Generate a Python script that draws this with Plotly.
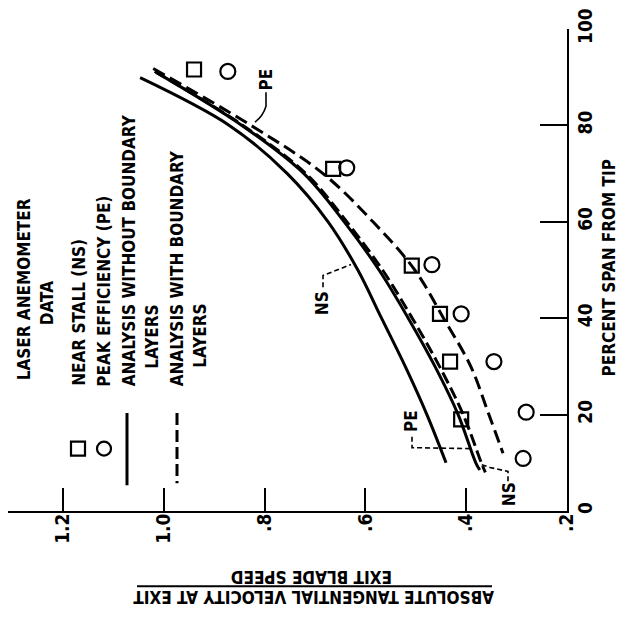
import plotly.graph_objects as go

# ---------------- data ----------------
# laser anemometer data
ns_span = [91.6, 71.0, 50.9, 40.9, 31.0, 19.0]
ns_vel = [0.940, 0.664, 0.508, 0.452, 0.432, 0.410]
pe_span = [91.2, 71.2, 51.1, 40.9, 31.0, 20.5, 10.9]
pe_vel = [0.873, 0.637, 0.468, 0.410, 0.345, 0.281, 0.287]

# analysis without boundary layers (solid)
ns_nobl_span = [89.9, 80, 70, 60, 50, 40, 30, 20, 10]
ns_nobl_vel = [1.047, 0.870, 0.755, 0.674, 0.615, 0.568, 0.521, 0.478, 0.440]
pe_nobl_span = [91.0, 80, 70, 60, 50, 40, 30, 20, 10, 8.5]
pe_nobl_vel = [1.015, 0.845, 0.722, 0.642, 0.573, 0.515, 0.462, 0.416, 0.381, 0.373]

# analysis with boundary layers (dashed)
ns_bl_span = [91.2, 80, 70, 60, 50, 40, 30, 20, 10, 8]
ns_bl_vel = [1.018, 0.843, 0.718, 0.637, 0.566, 0.507, 0.453, 0.406, 0.370, 0.362]
pe_bl_span = [91.8, 80, 70, 60, 50, 40, 30, 20, 12]
pe_bl_vel = [1.021, 0.827, 0.684, 0.585, 0.502, 0.445, 0.391, 0.355, 0.327]

vel_ticks = [1.2, 1.0, 0.8, 0.6, 0.4, 0.2]
vel_labels = ["1.2", "1.0", ".8", ".6", ".4", ".2"]
span_ticks = [0, 20, 40, 60, 80, 100]
span_labels = ["0", "20", "40", "60", "80", "100"]

# ---------------- layout geometry ----------------
W, H = 626, 624
L, R, T, B = 8, 567, 24, 511
FONT = "DejaVu Sans Condensed, Liberation Sans Narrow, Arial Narrow, sans-serif"


def P(px, py):
    return (px - L) / (R - L), (B - py) / (B - T)


fig = go.Figure()

line_w = 3
fig.add_trace(go.Scatter(x=ns_nobl_vel, y=ns_nobl_span, mode="lines",
                         line=dict(color="black", width=line_w, shape="spline")))
fig.add_trace(go.Scatter(x=pe_nobl_vel, y=pe_nobl_span, mode="lines",
                         line=dict(color="black", width=line_w, shape="spline")))
fig.add_trace(go.Scatter(x=ns_bl_vel, y=ns_bl_span, mode="lines",
                         line=dict(color="black", width=line_w, shape="spline",
                                   dash="12px,5px")))
fig.add_trace(go.Scatter(x=pe_bl_vel, y=pe_bl_span, mode="lines",
                         line=dict(color="black", width=line_w, shape="spline",
                                   dash="13px,6px")))
fig.add_trace(go.Scatter(x=ns_vel, y=ns_span, mode="markers",
                         marker=dict(symbol="square-open", size=14, color="black",
                                     line=dict(width=2.2, color="black"))))
fig.add_trace(go.Scatter(x=pe_vel, y=pe_span, mode="markers",
                         marker=dict(symbol="circle-open", size=15, color="black",
                                     line=dict(width=2.2, color="black"))))

annotations = []
shapes = []


def text(s, px, py, size=17, angle=-90, xa="center", ya="middle"):
    x, y = P(px, py)
    annotations.append(dict(text=s, x=x, y=y, xref="paper", yref="paper",
                            showarrow=False, textangle=angle, xanchor=xa, yanchor=ya,
                            font=dict(family=FONT, size=size, color="black",
                                      weight="bold")))


def seg(pts, dash="solid", width=1.6):
    path = ""
    for i, (px, py) in enumerate(pts):
        x, y = P(px, py)
        path += ("M" if i == 0 else "L") + f"{x},{y} "
    shapes.append(dict(type="path", path=path, xref="paper", yref="paper",
                       line=dict(color="black", width=width, dash=dash)))


# legend
text("LASER ANEMOMETER", 24, 287)
text("DATA", 47, 301)
text("NEAR STALL (NS)", 79, 387, ya="bottom")
text("PEAK EFFICIENCY (PE)", 104, 387, ya="bottom")
text("ANALYSIS WITHOUT BOUNDARY", 129, 387, ya="bottom")
text("LAYERS", 152, 335)
text("ANALYSIS WITH BOUNDARY", 177, 387, ya="bottom")
text("LAYERS", 200, 334)

# legend keys
x0, y0 = P(71, 441)
x1, y1 = P(85, 455)
shapes.append(dict(type="rect", x0=x0, y0=y0, x1=x1, y1=y1, xref="paper", yref="paper",
                   line=dict(color="black", width=2.2)))
x0, y0 = P(97, 441)
x1, y1 = P(111, 455)
shapes.append(dict(type="circle", x0=x0, y0=y0, x1=x1, y1=y1, xref="paper", yref="paper",
                   line=dict(color="black", width=2.2)))
seg([(127, 412), (127, 485)], width=3)
seg([(177, 412), (177, 483)], dash="12px,5px", width=3)

# curve labels and leaders
text("NS", 322, 301)
seg([(323, 285), (323, 273), (351, 262)], dash="5px,3px")
text("PE", 411, 420)
seg([(412, 436), (412, 447), (472, 448)], dash="5px,3px")
text("NS", 509, 494)
seg([(508, 481), (508, 471), (490, 467), (481, 464)], dash="5px,3px")
text("PE", 266, 75)
xa_, ya_ = P(266, 88)
xb_, yb_ = P(266, 102)
xc_, yc_ = P(263, 112)
xd_, yd_ = P(255, 118)
shapes.append(dict(type="path", xref="paper", yref="paper",
                   path=f"M{xa_},{ya_} L{xb_},{yb_} Q{xc_},{yc_} {xd_},{yd_}",
                   line=dict(color="black", width=1.6)))

# axis titles
text("PERCENT SPAN FROM TIP", 609, 266)
text("EXIT BLADE SPEED", 312, 577, angle=180)
text("ABSOLUTE TANGENTIAL VELOCITY AT EXIT", 314, 598, angle=180)
x0, y0 = P(137, 587)
x1, _ = P(492, 587)
shapes.append(dict(type="line", x0=x0, y0=y0, x1=x1, y1=y0, xref="paper", yref="paper",
                   line=dict(color="black", width=2)))

vel_left = 0.2 + (R - L) / 504.0

fig.update_layout(
    width=W, height=H,
    margin=dict(l=L, r=W - R, t=T, b=H - B),
    paper_bgcolor="white", plot_bgcolor="white",
    showlegend=False,
    annotations=annotations, shapes=shapes,
    xaxis=dict(range=[vel_left, 0.2], tickvals=vel_ticks, ticktext=vel_labels,
               ticks="inside", ticklen=23, tickwidth=2, tickcolor="black",
               showline=True, linecolor="black", linewidth=2, showgrid=False,
               zeroline=False, tickangle=-90, ticklabelstandoff=-7,
               tickfont=dict(family=FONT, size=19, color="black", weight="bold")),
    yaxis=dict(range=[0, 100], side="right", tickvals=span_ticks, ticktext=span_labels,
               ticks="inside", ticklen=27, tickwidth=2, tickcolor="black",
               showline=True, linecolor="black", linewidth=2, showgrid=False,
               zeroline=False, tickangle=-90, ticklabelstandoff=0,
               tickfont=dict(family=FONT, size=19, color="black", weight="bold")),
)

fig.write_html("out.html", config={"displayModeBar": False},
               post_script="document.body.style.margin='0';document.body.style.overflow='hidden';")
